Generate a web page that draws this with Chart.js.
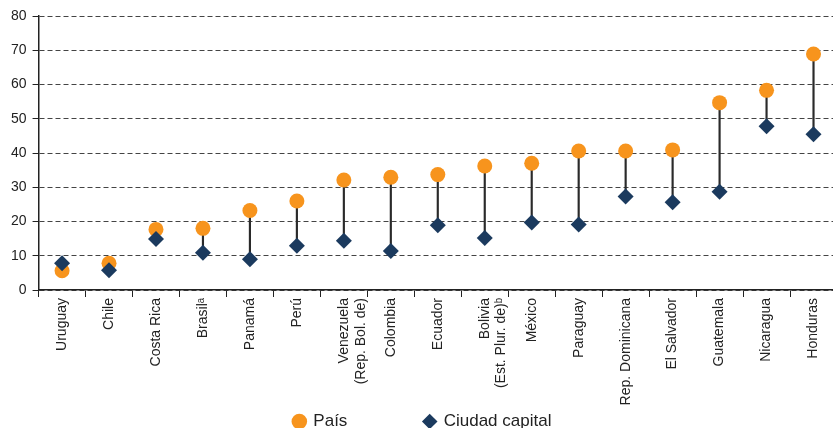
<!DOCTYPE html>
<html>
<head>
<meta charset="utf-8">
<script src="https://cdn.jsdelivr.net/npm/chart.js@4/dist/chart.umd.min.js"></script>
<style>
  html, body { margin: 0; padding: 0; background: #fff; overflow: hidden; }
  #wrap { width: 845px; height: 440px; position: relative; }
</style>
</head>
<body>
<div id="wrap"><canvas id="myChart"></canvas></div>
<script>
const countries = [
    'Uruguay', 'Chile', 'Costa Rica', 'Brasil\u1D43', 'Panamá', 'Perú',
    ['Venezuela', '(Rep. Bol. de)'], 'Colombia', 'Ecuador',
    ['Bolivia', '(Est. Plur. de)\u1D47'], 'México', 'Paraguay',
    'Rep. Dominicana', 'El Salvador', 'Guatemala', 'Nicaragua', 'Honduras'
]
const pais = [5.6, 7.8, 17.7, 18.0, 23.2, 26.0, 32.1, 32.9, 33.7, 36.2, 37.0, 40.6, 40.6, 40.9, 54.7, 58.3, 68.9]
const capital = [7.8, 5.8, 14.9, 10.9, 9.0, 12.9, 14.4, 11.4, 18.9, 15.2, 19.7, 19.1, 27.3, 25.6, 28.7, 47.8, 45.5]
const yTicks = [0, 10, 20, 30, 40, 50, 60, 70, 80]

const orange = '#F7941D'
const navy = '#1B3A5E'
const font = 'Arial, "Liberation Sans", sans-serif'

// vertical stems between both markers, as floating bars
const stems = pais.map((p, i) => [capital[i], p])

// the legend has no item spacing option, so pad the texts with blanks
const nbsp = (n) => '\u00A0'.repeat(n)
const legendPad = { 'País': 15, 'Ciudad capital': 1 }

const chart = document.querySelector('#myChart')

window.chart = new Chart(chart, {
    type: 'bar',
    data: {
        labels: countries,
        datasets: [
            {
                type: 'line', label: 'País', data: pais, showLine: false,
                pointStyle: 'circle', pointRadius: 7.5, pointHoverRadius: 7.5,
                backgroundColor: orange, borderColor: orange, borderWidth: 0, order: 1
            },
            {
                type: 'line', label: 'Ciudad capital', data: capital, showLine: false,
                pointStyle: 'rectRot', pointRadius: 8, pointHoverRadius: 8,
                backgroundColor: navy, borderColor: navy, borderWidth: 0, order: 0
            },
            {
                label: 'stems', data: stems, backgroundColor: '#2a2a2a',
                barThickness: 1.5, borderWidth: 0, order: 2
            }
        ]
    },
    options: {
        responsive: true,
        maintainAspectRatio: false,
        animation: false,
        layout: { padding: { top: 16, left: 5, right: 0, bottom: 0 } },
        plugins: {
            tooltip: { enabled: false },
            legend: {
                position: 'bottom',
                labels: {
                    usePointStyle: true,
                    boxWidth: 11, boxHeight: 11,
                    padding: 6,
                    color: '#222',
                    font: { family: font, size: 17 },
                    generateLabels: (c) => Chart.defaults.plugins.legend.labels.generateLabels(c)
                        .filter(item => item.text !== 'stems')
                        .map(item => ({ ...item, text: item.text + nbsp(legendPad[item.text] || 0) })),
                    sort: (a, b) => a.datasetIndex - b.datasetIndex
                }
            }
        },
        scales: {
            x: {
                afterFit: (scale) => { scale.height = 117 },
                grid: {
                    offset: true, drawOnChartArea: false, drawTicks: true,
                    tickLength: 7, color: '#222', lineWidth: 1
                },
                border: { display: true, color: '#222', width: 1.5 },
                ticks: {
                    minRotation: 90, maxRotation: 90, autoSkip: false,
                    padding: 1, color: '#222',
                    font: { family: font, size: 14 }
                }
            },
            y: {
                min: 0, max: 80,
                afterBuildTicks: (scale) => { scale.ticks = yTicks.map(v => ({ value: v })) },
                grid: {
                    color: '#444', lineWidth: 1, tickLength: 6,
                    tickColor: '#222', tickBorderDash: []
                },
                border: { display: true, color: '#222', width: 1.5, dash: [5, 3] },
                ticks: {
                    padding: 6, color: '#222',
                    font: { family: font, size: 14 }
                }
            }
        }
    }
})
</script>
</body>
</html>
